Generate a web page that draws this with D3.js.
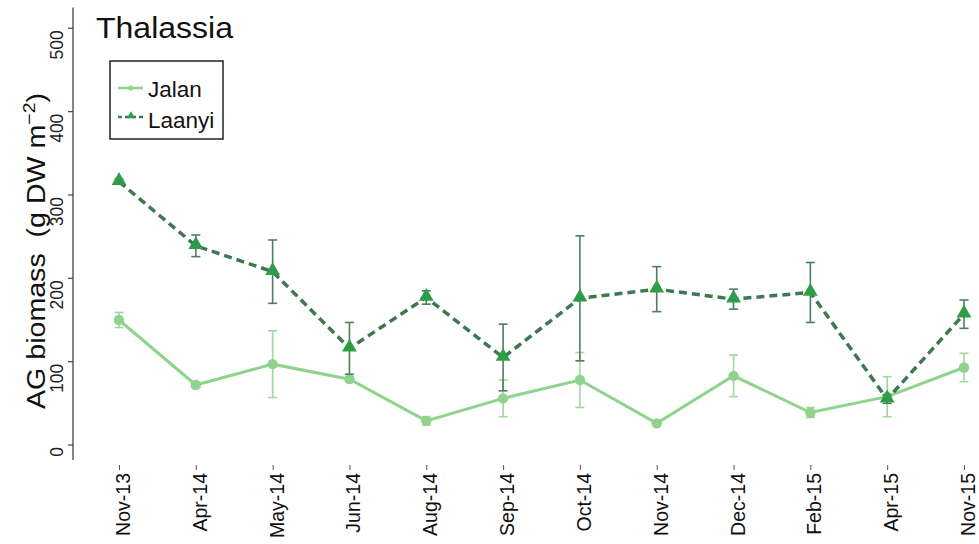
<!DOCTYPE html>
<html>
<head>
<meta charset="utf-8">
<script src="https://cdn.jsdelivr.net/npm/d3@7/dist/d3.min.js"></script>
<style>
  html, body { margin: 0; padding: 0; background: #fff; }
  svg { display: block; font-family: "Liberation Sans", Arial, Helvetica, sans-serif; }
</style>
</head>
<body>
<svg id="chart" width="979" height="544"></svg>
<script>
// Sampling dates
const dates = ["Nov-13", "Apr-14", "May-14", "Jun-14", "Aug-14", "Sep-14",
               "Oct-14", "Nov-14", "Dec-14", "Feb-15", "Apr-15", "Nov-15"];

// Above-ground biomass (g DW m^-2), mean and standard error per site
const jalanMean = [150, 72, 97, 79, 29, 56, 78, 26, 83, 39, 58, 93];
const jalanErr  = [9, 3, 40, 3, 5, 22, 33, 2, 25, 6, 24, 17];
const laanyiMean = [316, 239, 208, 116, 177, 105, 176, 187, 175, 183, 55, 157];
const laanyiErr  = [3, 13, 38, 31, 8, 40, 75, 27, 12, 36, 5, 17];

const yTicks = [0, 100, 200, 300, 400, 500];

const colJalan = "#8fd38c";
const colJalanErr = "#9fd99c";
const colLaanyi = "#2f9c47";
const colLaanyiLine = "#3d7753";
const colLaanyiErr = "#4f7d5e";

const svg = d3.select("#chart");

const x = d3.scalePoint().domain(dates).range([119, 964]);
const y = d3.scaleLinear().domain([0, 500]).range([445, 28.3]);

// y axis: line, ticks and rotated labels
const yAxisX = 73;
svg.append("line")
  .attr("x1", yAxisX).attr("x2", yAxisX)
  .attr("y1", y(525)).attr("y2", y(-18))
  .attr("stroke", "#444").attr("stroke-width", 1.3);

const yt = svg.append("g").selectAll("g").data(yTicks).join("g");
yt.append("line")
  .attr("x1", yAxisX - 5).attr("x2", yAxisX)
  .attr("y1", d => y(d)).attr("y2", d => y(d))
  .attr("stroke", "#444").attr("stroke-width", 1.2);
yt.append("text")
  .attr("transform", d => `translate(63,${y(d) + 2}) rotate(-90)`)
  .attr("text-anchor", "end")
  .attr("font-size", 17.5)
  .attr("fill", "#222")
  .text(d => d);

// y axis title
const yTitle = svg.append("text")
  .attr("transform", "translate(45,251) rotate(-90)")
  .attr("text-anchor", "middle")
  .attr("font-size", 25)
  .attr("fill", "#111")
  .attr("textLength", 316)
  .attr("lengthAdjust", "spacingAndGlyphs");
yTitle.append("tspan").text("AG biomass\u00a0\u00a0(g DW m");
yTitle.append("tspan").attr("font-size", 17).attr("dy", -10).text("\u22122");
yTitle.append("tspan").attr("dy", 10).text(")");

// x axis: small ticks and rotated date labels
const xAxis = d3.axisBottom(x).tickSize(5).tickFormat("");
const gx = svg.append("g").attr("transform", "translate(0,465)").call(xAxis);
gx.select(".domain").remove();
gx.selectAll(".tick line").attr("stroke", "#555").attr("stroke-width", 1);

svg.append("g").selectAll("text").data(dates).join("text")
  .attr("transform", d => `translate(${x(d) + 11},473) rotate(-90)`)
  .attr("text-anchor", "end")
  .attr("font-size", 19.5)
  .attr("fill", "#111")
  .text(d => d);

// Title
svg.append("text")
  .attr("x", 96).attr("y", 38)
  .attr("font-size", 30)
  .attr("fill", "#111")
  .attr("textLength", 137)
  .attr("lengthAdjust", "spacingAndGlyphs")
  .text("Thalassia");

// Series
const jalan = dates.map((d, i) => ({ d, v: jalanMean[i], e: jalanErr[i] }));
const laanyi = dates.map((d, i) => ({ d, v: laanyiMean[i], e: laanyiErr[i] }));

const line = d3.line().x(p => x(p.d)).y(p => y(p.v));

function errorBars(data, color) {
  const g = svg.append("g").attr("stroke", color).attr("stroke-width", 1.6).attr("fill", "none");
  g.selectAll(".v").data(data).join("line")
    .attr("x1", p => x(p.d)).attr("x2", p => x(p.d))
    .attr("y1", p => y(p.v - p.e)).attr("y2", p => y(p.v + p.e));
  g.selectAll(".t").data(data).join("line")
    .attr("x1", p => x(p.d) - 4.5).attr("x2", p => x(p.d) + 4.5)
    .attr("y1", p => y(p.v + p.e)).attr("y2", p => y(p.v + p.e));
  g.selectAll(".b").data(data).join("line")
    .attr("x1", p => x(p.d) - 4.5).attr("x2", p => x(p.d) + 4.5)
    .attr("y1", p => y(p.v - p.e)).attr("y2", p => y(p.v - p.e));
}

// Jalan: solid light green with circles
errorBars(jalan, colJalanErr);
svg.append("path").datum(jalan)
  .attr("d", line)
  .attr("fill", "none")
  .attr("stroke", colJalan)
  .attr("stroke-width", 3);
svg.append("g").selectAll("circle").data(jalan).join("circle")
  .attr("cx", p => x(p.d)).attr("cy", p => y(p.v))
  .attr("r", 5.2)
  .attr("fill", colJalan);

// Laanyi: dashed dark line with triangles
errorBars(laanyi, colLaanyiErr);
svg.append("path").datum(laanyi)
  .attr("d", line)
  .attr("fill", "none")
  .attr("stroke", colLaanyiLine)
  .attr("stroke-width", 3.5)
  .attr("stroke-dasharray", "8,5");
const tri = d3.symbol().type(d3.symbolTriangle).size(95);
svg.append("g").selectAll("path").data(laanyi).join("path")
  .attr("transform", p => `translate(${x(p.d)},${y(p.v) - 1})`)
  .attr("d", tri)
  .attr("fill", colLaanyi);

// Legend
const lg = svg.append("g");
lg.append("rect")
  .attr("x", 110).attr("y", 61).attr("width", 113).attr("height", 78)
  .attr("fill", "#fff").attr("stroke", "#222").attr("stroke-width", 1.5);
lg.append("line")
  .attr("x1", 118).attr("x2", 143).attr("y1", 88).attr("y2", 88)
  .attr("stroke", colJalan).attr("stroke-width", 2.5);
lg.append("circle").attr("cx", 131).attr("cy", 88).attr("r", 2.5).attr("fill", colJalan);
lg.append("text").attr("x", 148).attr("y", 97)
  .attr("font-size", 22.5).attr("fill", "#111").text("Jalan");
lg.append("line")
  .attr("x1", 118).attr("x2", 143).attr("y1", 117).attr("y2", 117)
  .attr("stroke", colLaanyiLine).attr("stroke-width", 2.5)
  .attr("stroke-dasharray", "4,3");
lg.append("path")
  .attr("transform", "translate(131,116)")
  .attr("d", d3.symbol().type(d3.symbolTriangle).size(28))
  .attr("fill", colLaanyi);
lg.append("text").attr("x", 148).attr("y", 128)
  .attr("font-size", 22.5).attr("fill", "#111").text("Laanyi");
</script>
</body>
</html>
